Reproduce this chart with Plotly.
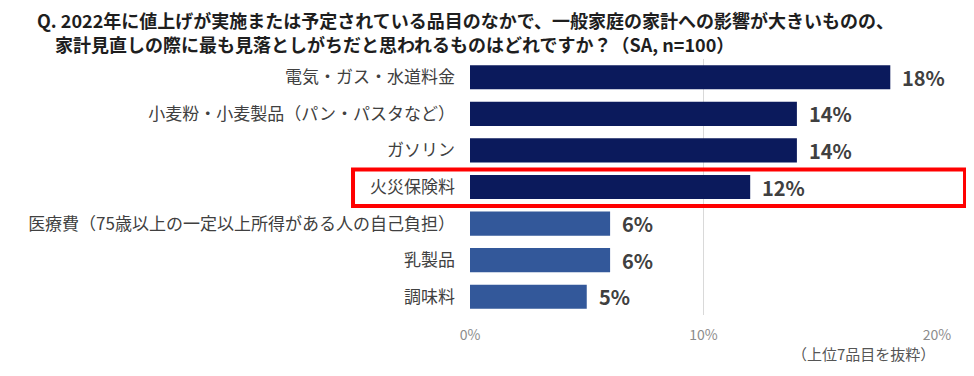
import plotly.graph_objects as go

categories = [
    "電気・ガス・水道料金",
    "小麦粉・小麦製品（パン・パスタなど）",
    "ガソリン",
    "火災保険料",
    "医療費（75歳以上の一定以上所得がある人の自己負担）",
    "乳製品",
    "調味料",
]
values = [18, 14, 14, 12, 6, 6, 5]
bar_colors = ["#0b1a5c", "#0b1a5c", "#0b1a5c", "#0b1a5c", "#33589a", "#33589a", "#33589a"]
highlight = "火災保険料"
tick_vals = [0, 10, 20]
tick_text = ["0%", "10%", "20%"]
title_line1 = "Q. 2022年に値上げが実施または予定されている品目のなかで、一般家庭の家計への影響が大きいものの、"
title_line2 = "家計見直しの際に最も見落としがちだと思われるものはどれですか？（SA, n=100）"
note = "（上位7品目を抜粋）"

FONT = "Noto Sans CJK JP"

fig = go.Figure(go.Bar(
    x=values,
    y=categories,
    orientation="h",
    marker=dict(color=bar_colors, line=dict(width=0)),
    width=0.66,
    hoverinfo="x+y",
))

# value labels
for c, v in zip(categories, values):
    fig.add_annotation(
        x=v, y=c, xref="x", yref="y", xanchor="left", yanchor="middle",
        xshift=10, showarrow=False, text=f"{v}%",
        font=dict(family=FONT, size=20, color="#404040", weight="bold"),
    )

idx = categories.index(highlight)
fig.add_shape(
    type="rect", xref="paper", yref="y",
    x0=-0.2505, x1=1.06, y0=idx - 0.48, y1=idx + 0.52,
    line=dict(color="#ff0000", width=4), layer="above",
)

fig.add_annotation(
    xref="paper", yref="paper", x=-0.931, y=1.0, yshift=39,
    xanchor="left", yanchor="middle", showarrow=False,
    text=title_line1, font=dict(family=FONT, size=18, color="#1e1e1e", weight="bold"),
)
fig.add_annotation(
    xref="paper", yref="paper", x=-0.893, y=1.0, yshift=15,
    xanchor="left", yanchor="middle", showarrow=False,
    text=title_line2, font=dict(family=FONT, size=18, color="#1e1e1e", weight="bold"),
)
fig.add_annotation(
    xref="paper", yref="paper", x=1.0, y=0, yshift=-38,
    xanchor="right", yanchor="middle", showarrow=False,
    text=note, font=dict(family=FONT, size=15, color="#555555"),
)

fig.update_layout(
    width=966, height=368,
    margin=dict(l=462, r=37, t=51, b=61),
    paper_bgcolor="white", plot_bgcolor="white",
    showlegend=False,
    font=dict(family=FONT),
)
fig.update_xaxes(
    range=[0, 20], tickvals=tick_vals, ticktext=tick_text,
    showgrid=True, gridcolor="#d9d9d9", gridwidth=1,
    zeroline=False, showline=False,
    tickfont=dict(family=FONT, size=14, color="#8c8c8c"),
    ticks="", ticklabelstandoff=10,
)
fig.update_yaxes(
    autorange="reversed", showgrid=False, zeroline=False,
    tickfont=dict(family=FONT, size=17, color="#404040"),
    ticks="", ticklabelstandoff=14,
)

fig.write_html("out.html")
